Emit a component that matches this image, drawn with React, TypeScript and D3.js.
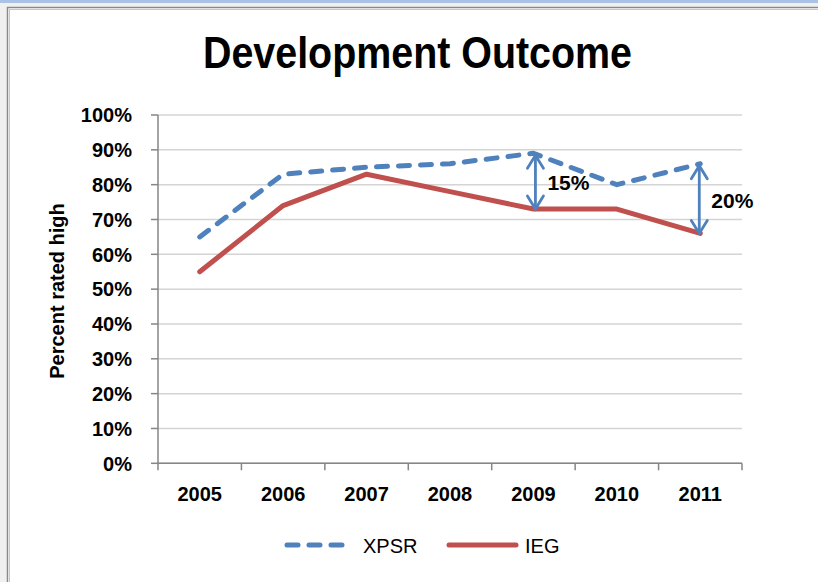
import React from "react";
import * as d3 from "d3";

// chart values
const years = ["2005", "2006", "2007", "2008", "2009", "2010", "2011"];
const xpsr = [0.65, 0.83, 0.85, 0.86, 0.89, 0.8, 0.86];
const ieg = [0.55, 0.74, 0.83, 0.78, 0.73, 0.73, 0.66];
const yTicks = [0, 0.1, 0.2, 0.3, 0.4, 0.5, 0.6, 0.7, 0.8, 0.9, 1];
const gapNotes = [
  { year: "2009", label: "15%" },
  { year: "2011", label: "20%" },
];

const BLUE = "#4F81BD";
const RED = "#C0504D";
const FONT = "'Liberation Sans', Arial, sans-serif";

const App = () => {
  const width = 818;
  const height = 582;

  // plot area
  const x = d3.scaleBand().domain(years).range([158, 742]).padding(0);
  const y = d3.scaleLinear().domain([0, 1]).range([463.3, 115]);
  const cx = (yr) => x(yr) + x.bandwidth() / 2;

  const line = d3
    .line()
    .x((d) => cx(d[0]))
    .y((d) => y(d[1]));

  const xpsrPts = years.map((yr, i) => [yr, xpsr[i]]);
  const iegPts = years.map((yr, i) => [yr, ieg[i]]);
  const fmt = d3.format(".0%");

  // open chevron head for the gap arrows
  const head = (px, py, dir) =>
    `M${px - 8},${py + dir * 13}L${px},${py}L${px + 8},${py + dir * 13}`;

  return (
    <svg
      width={width}
      height={height}
      style={{ position: "absolute", left: 0, top: 0 }}
      fontFamily={FONT}
    >
      {/* window frame */}
      <rect x={0} y={0} width={width} height={height} fill="#f0f0f0" />
      <rect x={0} y={0} width={width} height={3} fill="#a8c3e6" />
      <rect x={7} y={7} width={width - 7} height={height - 7} fill="#ffffff" />
      <line x1={7.5} y1={7} x2={7.5} y2={height} stroke="#8a8a8a" strokeWidth={1.5} />
      <line x1={7} y1={7.5} x2={width} y2={7.5} stroke="#8a8a8a" strokeWidth={1.5} />
      <line x1={9.5} y1={9} x2={9.5} y2={height} stroke="#c8c8c8" strokeWidth={1} />
      <line x1={9} y1={9.5} x2={width} y2={9.5} stroke="#c8c8c8" strokeWidth={1} />

      {/* title */}
      <text
        x={417.5}
        y={68}
        textAnchor="middle"
        fontSize={44}
        fontWeight="bold"
        textLength={429}
        lengthAdjust="spacingAndGlyphs"
      >
        Development Outcome
      </text>

      {/* gridlines */}
      {yTicks.map((t) => (
        <line
          key={"g" + t}
          x1={158}
          x2={742}
          y1={y(t)}
          y2={y(t)}
          stroke="#d4d4d4"
          strokeWidth={1.5}
        />
      ))}

      {/* y axis */}
      <line x1={158} x2={158} y1={y(1)} y2={y(0)} stroke="#868686" strokeWidth={1.5} />
      {yTicks.map((t) => (
        <g key={"y" + t}>
          <line x1={151} x2={158} y1={y(t)} y2={y(t)} stroke="#868686" strokeWidth={1.5} />
          <text
            x={132}
            y={y(t)}
            dy="0.36em"
            textAnchor="end"
            fontSize={20}
            fontWeight="bold"
          >
            {fmt(t)}
          </text>
        </g>
      ))}
      <text
        transform="translate(64,291) rotate(-90)"
        textAnchor="middle"
        fontSize={20}
        fontWeight="bold"
      >
        Percent rated high
      </text>

      {/* x axis */}
      <line x1={158} x2={742} y1={y(0)} y2={y(0)} stroke="#868686" strokeWidth={1.5} />
      {[...years.map((yr) => x(yr)), 742].map((px, i) => (
        <line
          key={"t" + i}
          x1={px}
          x2={px}
          y1={y(0)}
          y2={y(0) + 7}
          stroke="#868686"
          strokeWidth={1.5}
        />
      ))}
      {years.map((yr) => (
        <text
          key={"x" + yr}
          x={cx(yr)}
          y={501}
          textAnchor="middle"
          fontSize={20}
          fontWeight="bold"
        >
          {yr}
        </text>
      ))}

      {/* series */}
      <path
        d={line(iegPts)}
        fill="none"
        stroke={RED}
        strokeWidth={5}
        strokeLinejoin="round"
        strokeLinecap="round"
      />
      <path
        d={line(xpsrPts)}
        fill="none"
        stroke={BLUE}
        strokeWidth={5}
        strokeDasharray="11 11"
        strokeLinejoin="round"
        strokeLinecap="round"
      />

      {/* gap arrows */}
      {gapNotes.map((n) => {
        const i = years.indexOf(n.year);
        const px = cx(n.year) + (i === years.length - 1 ? -1 : 2);
        const top = y(xpsr[i]) + 2;
        const bot = y(ieg[i]);
        return (
          <g key={"a" + n.year} stroke={BLUE} strokeWidth={2.8} fill="none" strokeLinecap="round">
            <line x1={px} x2={px} y1={top} y2={bot} />
            <path d={head(px, top, 1)} />
            <path d={head(px, bot, -1)} />
            <text
              x={px + 12}
              y={(top + bot) / 2 + 8}
              fontSize={21}
              fontWeight="bold"
              fill="#000"
              stroke="none"
            >
              {n.label}
            </text>
          </g>
        );
      })}

      {/* legend */}
      <line
        x1={287}
        x2={348}
        y1={545}
        y2={545}
        stroke={BLUE}
        strokeWidth={5}
        strokeDasharray="11 11"
        strokeLinecap="round"
      />
      <text x={363} y={553} fontSize={20}>
        XPSR
      </text>
      <line
        x1={449}
        x2={516}
        y1={545}
        y2={545}
        stroke={RED}
        strokeWidth={5}
        strokeLinecap="round"
      />
      <text x={525} y={553} fontSize={20}>
        IEG
      </text>
    </svg>
  );
};

export default App;
